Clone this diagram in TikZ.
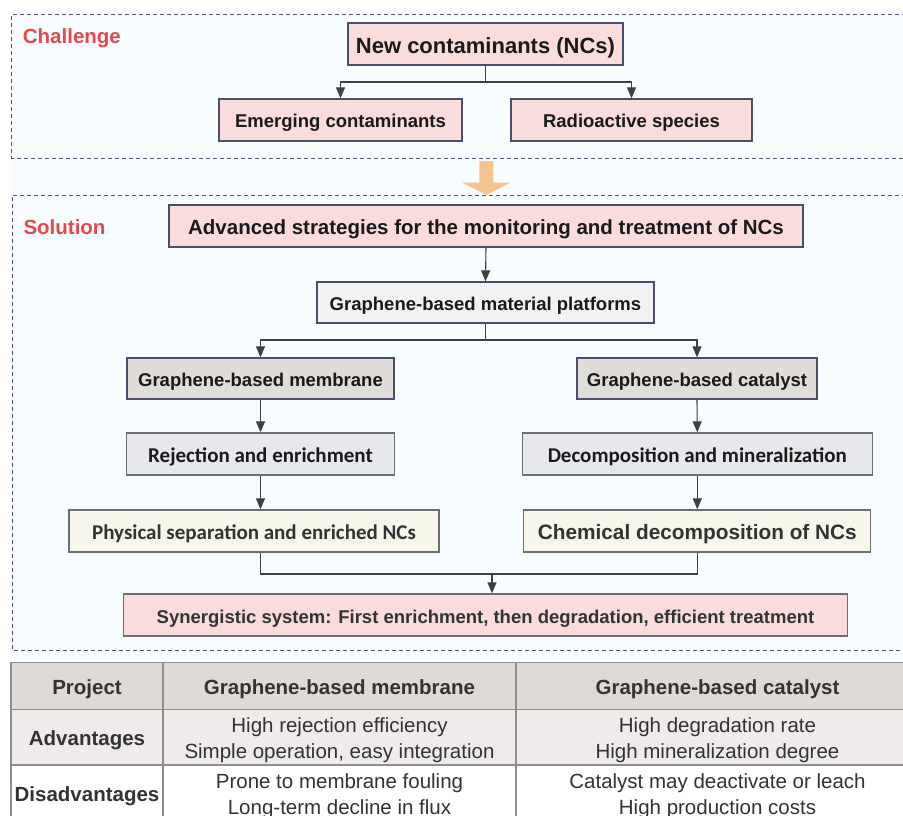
\documentclass[tikz,border=0pt]{standalone}
\usepackage{fontspec}
\setmainfont{Liberation Sans}
\newfontfamily\calib{Carlito}
\usetikzlibrary{arrows.meta}
\definecolor{bgc}{HTML}{F7FDFE}
\definecolor{pinkf}{HTML}{F9DCDB}
\definecolor{platf}{HTML}{F3F1F3}
\definecolor{memf}{HTML}{E0DCDA}
\definecolor{rejf}{HTML}{E6E8EC}
\definecolor{physf}{HTML}{F6F6EB}
\definecolor{bordc}{HTML}{4A4E6A}
\definecolor{grayb}{HTML}{6E6E72}
\definecolor{lnc}{HTML}{404040}
\definecolor{dashc}{HTML}{4E5575}
\definecolor{redt}{HTML}{E5484D}
\definecolor{orng}{HTML}{F5C38C}
\definecolor{txt}{HTML}{1A1A1A}
\definecolor{txtg}{HTML}{333333}
\definecolor{thf}{HTML}{DEDAD8}
\definecolor{tadv}{HTML}{EEEBEA}
\definecolor{tline}{HTML}{8E8E8E}
\begin{document}
\begin{tikzpicture}[x=1pt,y=-1pt,
  box/.style={draw=bordc, line width=1.3pt, minimum height=42pt, inner sep=0pt, text=txt,
    text height=16pt, text depth=0pt,
    font=\bfseries\fontsize{18.5}{22}\selectfont},
  cbox/.style={box, draw=grayb, text height=16pt, font=\calib\bfseries\fontsize{21}{24}\selectfont},
  arr/.style={-{Triangle[width=9pt,length=11pt]}, draw=lnc, line width=1.1pt},
  ln/.style={draw=lnc, line width=1.1pt},
  dbox/.style={draw=dashc, line width=1pt, dash pattern=on 4pt off 3pt},
  lab/.style={text=redt, font=\bfseries\fontsize{20.5}{24}\selectfont, anchor=west, inner sep=0pt,
    text height=14.7pt, text depth=0pt},
  th/.style={font=\bfseries\fontsize{20.5}{24}\selectfont, text=txtg, inner sep=0pt,
    text height=14.7pt, text depth=0pt},
  td/.style={font=\fontsize{20.5}{26}\selectfont, text=txtg, inner sep=0pt, align=center},
  tl/.style={draw=tline, line width=1.3pt}
]
\useasboundingbox (0,0) rectangle (903,816);
\clip (0,0) rectangle (903,816);
\fill[white] (0,0) rectangle (903,816);
\fill[bgc] (11,14) rectangle (910,660);

% dashed panels
\draw[dbox] (920,14.5) -- (11.7,14.5) -- (11.7,158) -- (920,158);
\draw[dbox] (920,195) -- (12,195) -- (12,650) -- (920,650);

\node[lab] (chl) at (22.7,36.5) {Challenge};
\node[lab] (sol) at (23.3,227) {Solution};

% challenge
\node[box, fill=pinkf, minimum width=275pt, minimum height=42pt, text height=18.5pt, font=\bfseries\fontsize{22}{26}\selectfont] (nc) at (485.5,44) {New contaminants (NCs)};
\node[box, fill=pinkf, minimum width=243pt] (em) at (340.5,120) {Emerging contaminants};
\node[box, fill=pinkf, minimum width=241pt] (ra) at (631.5,120) {Radioactive species};
\coordinate (j0) at (485.5,82);
\draw[ln] (nc.south) -- (j0);
\draw[arr] (j0) -| (em.north);
\draw[arr] (j0) -| (ra.north);

% orange arrow
\fill[orng] (479.3,161) -- (493.3,161) -- (493.3,182.7) -- (510,182.7) -- (486.3,195) -- (462.3,182.7) -- (479.3,182.7) -- cycle;

% solution
\node[box, fill=pinkf, minimum width=634pt, text height=17.5pt, font=\bfseries\fontsize{20.5}{24}\selectfont] (adv) at (486,226) {Advanced strategies for the monitoring and treatment of NCs};
\node[box, fill=platf, minimum width=337pt, minimum height=41pt] (plat) at (485.5,302.5) {Graphene-based material platforms};
\draw[arr] (adv.south) -- (plat.north);
\node[box, fill=memf, minimum width=267pt, minimum height=41pt] (mem) at (260.5,378.5) {Graphene-based membrane};
\node[box, fill=memf, minimum width=240pt, minimum height=41pt] (cat) at (697,378.5) {Graphene-based catalyst};
\coordinate (j1) at (485.5,340);
\draw[ln] (plat.south) -- (j1);
\draw[arr] (j1) -| (mem.north);
\draw[arr] (j1) -| (cat.north);

\node[cbox, fill=rejf, minimum width=268pt] (rej) at (260.5,454) {Rejection and enrichment};
\node[cbox, fill=rejf, minimum width=350pt] (dec) at (697.3,454) {Decomposition and mineralization};
\draw[arr] (mem.south) -- (rej.north);
\draw[arr] (cat.south) -- (dec.north);

\node[cbox, fill=physf, minimum width=370pt, text=txtg] (phys) at (254,531) {Physical separation and enriched NCs};
\node[box, fill=physf, draw=grayb, minimum width=347pt, text=txtg, text height=17.5pt, font=\bfseries\fontsize{20.8}{24}\selectfont] (chem) at (697.3,531) {Chemical decomposition of NCs};
\draw[arr] (rej.south) -- (rej.south |- phys.north);
\draw[arr] (dec.south) -- (chem.north);

\node[box, fill=pinkf, draw=grayb, minimum width=724pt, text=txtg] (syn) at (485.5,615) {Synergistic system: First enrichment, then degradation, efficient treatment};
\coordinate (j2) at (492,574);
\draw[ln] (rej.south |- phys.south) -- (rej.south |- j2) -- (chem.south |- j2) -- (chem.south);
\draw[arr] (j2) -- (j2 |- syn.north);

% table
\fill[thf] (11,662.7) rectangle (910,709.3);
\fill[tadv] (11,709.3) rectangle (910,765);
\draw[tl] (910,662.7) -- (11,662.7) -- (11,820);
\draw[tl] (11,709.3) -- (910,709.3);
\draw[tl] (11,765) -- (910,765);
\draw[tl] (163,662.7) -- (163,820);
\draw[tl] (516,662.7) -- (516,820);

\node[th] (h1) at (87,687) {Project};
\node[th] (h2) at (339.5,687) {Graphene-based membrane};
\node[th] (h3) at (717.5,687) {Graphene-based catalyst};
\node[th] (r1) at (87,738) {Advantages};
\node[th] (r2) at (87,794) {Disadvantages};
\node[td] (a1) at (339.5,740) {High rejection efficiency\\Simple operation, easy integration};
\node[td] (a2) at (717.5,740) {High degradation rate\\High mineralization degree};
\node[td] (d1) at (339.5,796) {Prone to membrane fouling\\Long-term decline in flux};
\node[td] (d2) at (717.5,796) {Catalyst may deactivate or leach\\High production costs};
\end{tikzpicture}
\end{document}
